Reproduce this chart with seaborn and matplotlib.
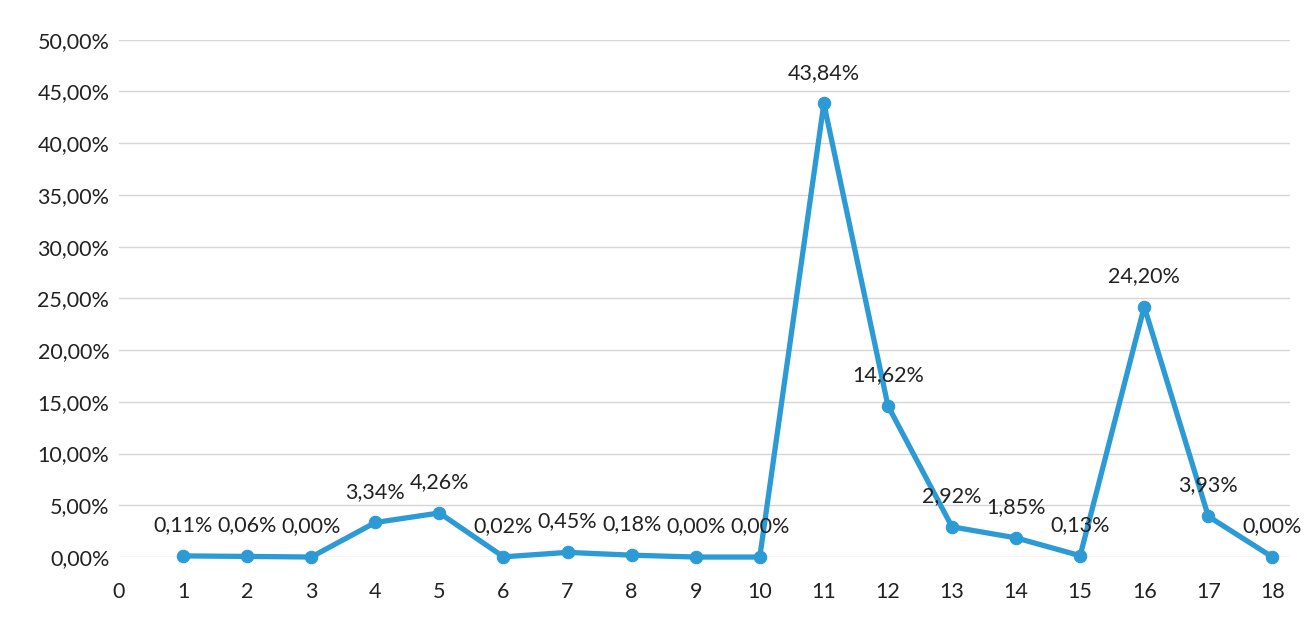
import matplotlib
matplotlib.use("Agg")
import matplotlib.pyplot as plt
import seaborn as sns
import pandas as pd
from matplotlib.ticker import FuncFormatter

# Share (%) per position
positions = list(range(1, 19))
shares = [0.11, 0.06, 0.00, 3.34, 4.26, 0.02, 0.45, 0.18, 0.00, 0.00,
          43.84, 14.62, 2.92, 1.85, 0.13, 24.20, 3.93, 0.00]
x_ticks = list(range(0, 19))
y_ticks = list(range(0, 55, 5))

df = pd.DataFrame({"pos": positions, "share": shares})

sns.set_theme(style="white")
plt.rcParams["font.family"] = ["Lato", "DejaVu Sans"]

fig = plt.figure(figsize=(13.08, 6.21), dpi=100)
ax = fig.add_axes([0.091, 0.103, 0.895, 0.833])

line_color = "#2c9ad4"
sns.lineplot(data=df, x="pos", y="share", ax=ax, color=line_color,
             linewidth=3.8, marker="o", markersize=9,
             markeredgecolor=line_color, clip_on=False, zorder=3)

def pct(v):
    return f"{v:.2f}".replace(".", ",") + "%"

for xv, yv in zip(df["pos"], df["share"]):
    ax.annotate(pct(yv), (xv, yv), xytext=(0, 15), textcoords="offset points",
                ha="center", va="bottom", fontsize=15.5, color="#222222")

ax.set_xlim(0, 18.27)
ax.set_ylim(0, 50)
ax.set_xticks(x_ticks)
ax.set_yticks(y_ticks)
ax.yaxis.set_major_formatter(FuncFormatter(lambda v, _: pct(v)))
ax.grid(axis="y", color="#d6d6d6", linewidth=1)
ax.grid(axis="x", visible=False)
for s in ax.spines.values():
    s.set_visible(False)
ax.tick_params(axis="x", length=0, pad=18, labelsize=15.5, labelcolor="#222222")
ax.tick_params(axis="y", length=0, pad=7, labelsize=15.5, labelcolor="#222222")
ax.set_xlabel("")
ax.set_ylabel("")

fig.savefig("out.png", dpi=100, facecolor="white")
